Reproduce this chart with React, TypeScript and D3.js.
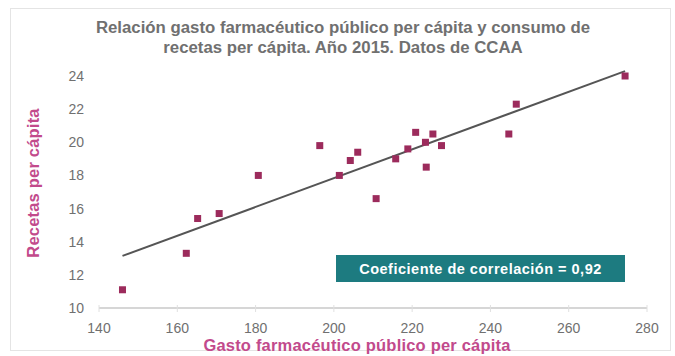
import React from "react";
import * as d3 from "d3";

// Gasto farmacéutico público per cápita (€) y recetas per cápita por CCAA, 2015
const gastoPerCapita = [
  146.0, 162.3, 165.2, 170.7, 180.7, 196.4, 201.4, 204.2, 206.1, 210.8,
  215.8, 218.9, 220.9, 223.4, 223.6, 225.3, 227.5, 244.7, 246.6, 274.4,
];
const recetasPerCapita = [
  11.1, 13.3, 15.4, 15.7, 18.0, 19.8, 18.0, 18.9, 19.4, 16.6,
  19.0, 19.6, 20.6, 20.0, 18.5, 20.5, 19.8, 20.5, 22.3, 24.0,
];
const xTicks = [140, 160, 180, 200, 220, 240, 260, 280];
const yTicks = [10, 12, 14, 16, 18, 20, 22, 24];
const titleLines = [
  "Relación gasto farmacéutico público per cápita y consumo de",
  "recetas per cápita. Año 2015. Datos de CCAA",
];
const xLabel = "Gasto farmacéutico público per cápita";
const yLabel = "Recetas per cápita";
const coeficiente = 0.92;

const W = 675;
const H = 356;
const FONT = "'Liberation Sans', Arial, Helvetica, sans-serif";

export default function App() {
  const x = d3.scaleLinear().domain([140, 280]).range([99, 647]);
  const y = d3.scaleLinear().domain([10, 24]).range([308, 76]);

  const points = gastoPerCapita.map((g, i) => ({ g, r: recetasPerCapita[i] }));

  // Least-squares trend line over the data range
  const mx = d3.mean(gastoPerCapita) as number;
  const my = d3.mean(recetasPerCapita) as number;
  const sxy = d3.sum(points, (p) => (p.g - mx) * (p.r - my));
  const sxx = d3.sum(points, (p) => (p.g - mx) ** 2);
  const slope = sxy / sxx;
  const intercept = my - slope * mx;
  const [gMin, gMax] = d3.extent(gastoPerCapita) as [number, number];
  const trend = d3
    .line<number>()
    .x((g) => x(g))
    .y((g) => y(intercept + slope * g))([gMin, gMax]);

  const fmt = (v: number) => v.toFixed(2).replace(".", ",");
  const m = 7;

  return (
    <svg
      width={W}
      height={H}
      style={{ position: "absolute", left: 0, top: 0, background: "#fff" }}
      fontFamily={FONT}
    >
      <rect x={10.5} y={8.5} width={660} height={342} fill="#fff" stroke="#e4e4e4" />

      {titleLines.map((t, i) => (
        <text
          key={i}
          x={343}
          y={27 + i * 20.5}
          textAnchor="middle"
          dominantBaseline="central"
          fontSize={16.8}
          fontWeight="bold"
          fill="#707070"
        >
          {t}
        </text>
      ))}

      {/* x axis */}
      <line x1={x(140)} x2={x(280)} y1={308} y2={308} stroke="#d6d6d6" strokeWidth={2} />
      {xTicks.map((t) => (
        <g key={t}>
          <line x1={x(t)} x2={x(t)} y1={305} y2={312} stroke="#e0e0e0" strokeWidth={1} />
          <text
            x={x(t)}
            y={328}
            textAnchor="middle"
            dominantBaseline="central"
            fontSize={14}
            fill="#707070"
          >
            {t}
          </text>
        </g>
      ))}

      {/* y axis labels */}
      {yTicks.map((t) => (
        <text
          key={t}
          x={84}
          y={y(t)}
          textAnchor="end"
          dominantBaseline="central"
          fontSize={14}
          fill="#707070"
        >
          {t}
        </text>
      ))}

      <text
        x={357}
        y={345}
        textAnchor="middle"
        dominantBaseline="central"
        fontSize={16.5}
        fontWeight="bold"
        letterSpacing={0.2}
        fill="#c24a8c"
      >
        {xLabel}
      </text>
      <text
        transform={`translate(33,183) rotate(-90)`}
        textAnchor="middle"
        dominantBaseline="central"
        fontSize={16.5}
        fontWeight="bold"
        letterSpacing={0.2}
        fill="#c24a8c"
      >
        {yLabel}
      </text>

      {/* trend line */}
      <path d={trend ?? ""} fill="none" stroke="#555" strokeWidth={2} />

      {/* points */}
      {points.map((p, i) => (
        <rect
          key={i}
          x={x(p.g) - m / 2}
          y={y(p.r) - m / 2}
          width={m}
          height={m}
          fill="#9c2b5c"
        />
      ))}

      {/* correlation box */}
      <rect x={336} y={255} width={289} height={27} fill="#1d7b80" />
      <text
        x={480.5}
        y={268.5}
        textAnchor="middle"
        dominantBaseline="central"
        fontSize={14.5}
        fontWeight="bold"
        letterSpacing={0.5}
        fill="#fff"
      >
        {`Coeficiente de correlación = ${fmt(coeficiente)}`}
      </text>
    </svg>
  );
}
